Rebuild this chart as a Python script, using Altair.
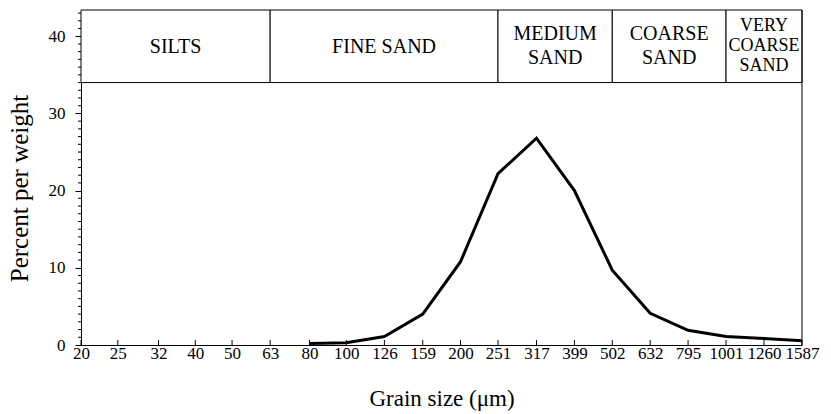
import altair as alt
import pandas as pd

# Grain-size distribution
sizes = [80, 100, 126, 159, 200, 251, 317, 399, 502, 632, 795, 1001, 1260, 1587]
percent = [0.2, 0.3, 1.1, 4.0, 10.8, 22.2, 26.8, 20.0, 9.7, 4.1, 1.9, 1.1, 0.85, 0.55]

# x-axis tick labels (µm)
tick_values = [20, 25, 32, 40, 50, 63, 80, 100, 126, 159, 200, 251, 317, 399,
               502, 632, 795, 1001, 1260, 1587]

# y-axis major and minor ticks
y_major = [0, 10, 20, 30, 40]
y_minor = [v for v in range(0, 44) if v % 10 != 0]

# Size classes
class_names = ["SILTS", "FINE  SAND", "MEDIUM\nSAND", "COARSE\nSAND", "VERY\nCOARSE\nSAND"]
class_start = [20, 63, 251, 502, 1001]
class_end = [63, 251, 502, 1001, 1587]

Y_TOP = 43.4
BAND_LOW = 34.0

line_df = pd.DataFrame({"size": sizes, "percent": percent})
band_df = pd.DataFrame({
    "name": class_names,
    "start": class_start,
    "end": class_end,
})
band_df["mid"] = (band_df["start"] * band_df["end"]) ** 0.5
band_df["low"] = BAND_LOW
band_df["high"] = Y_TOP
band_df["ymid"] = (BAND_LOW + Y_TOP) / 2
band_df["nlines"] = [n.count("\n") + 1 for n in class_names]

minor_df = pd.DataFrame({"v": y_minor})
xtick_df = pd.DataFrame({"t": tick_values})

FONT = "Liberation Serif, Times New Roman, serif"

x_scale = alt.Scale(type="log", domain=[20, 1587], nice=False)
y_scale = alt.Scale(domain=[0, Y_TOP], nice=False, zero=False)

x_axis = alt.Axis(
    values=tick_values, format="d", grid=False,
    title="Grain size (μm)", titleFont=FONT, titleFontSize=23, titleFontWeight="normal",
    titleBaseline="alphabetic", titleY=60, titleColor="black",
    labelFont=FONT, labelFontSize=17, labelColor="black", labelPadding=0,
    labelFlush=False, labelOverlap=False,
    ticks=False, domainColor="black",
)
y_axis = alt.Axis(
    values=y_major, grid=False, labelOverlap=False,
    tickSize=6,
    title="Percent per weight", titleFont=FONT, titleFontSize=25, titleFontWeight="normal",
    titleBaseline="alphabetic", titleX=-54, titleY=178, titleColor="black",
    labelFont=FONT, labelFontSize=17, labelColor="black", labelPadding=10,
    tickColor="black", domainColor="black",
)

line = alt.Chart(line_df).mark_line(color="black", strokeWidth=3, strokeJoin="miter").encode(
    x=alt.X("size:Q", scale=x_scale, axis=x_axis),
    y=alt.Y("percent:Q", scale=y_scale, axis=y_axis),
)

minor_ticks = alt.Chart(minor_df).mark_rule(color="black", strokeWidth=1).encode(
    x=alt.value(-3),
    x2=alt.value(0),
    y=alt.Y("v:Q", scale=y_scale),
)

# inward x ticks
x_ticks = alt.Chart(xtick_df).mark_rule(color="black", strokeWidth=1).encode(
    x=alt.X("t:Q", scale=x_scale),
    y=alt.value(335),
    y2=alt.value(330),
)

bands = alt.Chart(band_df).mark_rect(fill="white", stroke="black", strokeWidth=1).encode(
    x=alt.X("start:Q", scale=x_scale),
    x2="end:Q",
    y=alt.Y("low:Q", scale=y_scale),
    y2="high:Q",
)


def band_labels(n, size, line_h, dy):
    return alt.Chart(band_df).transform_filter(
        f"datum.nlines === {n}"
    ).mark_text(font=FONT, fontSize=size, lineBreak="\n", lineHeight=line_h, dy=dy,
                color="black", align="center", baseline="middle").encode(
        x=alt.X("mid:Q", scale=x_scale),
        y=alt.Y("ymid:Q", scale=y_scale),
        text="name:N",
    )


labels1 = band_labels(1, 20, 24, 1)
labels2 = band_labels(2, 20, 24, -12)
labels3 = band_labels(3, 18, 20, -20)

right_border = alt.Chart(pd.DataFrame({"x": [1587], "y0": [0], "y1": [Y_TOP]})).mark_rule(
    color="black", strokeWidth=1
).encode(
    x=alt.X("x:Q", scale=x_scale),
    y=alt.Y("y0:Q", scale=y_scale),
    y2="y1:Q",
)

chart = alt.layer(line, minor_ticks, x_ticks, bands, labels1, labels2, labels3,
                  right_border).properties(
    width=721, height=335,
    autosize=alt.AutoSizeParams(type="none"),
    padding={"left": 81, "top": 10, "right": 29, "bottom": 69},
    background="white",
).configure_view(stroke=None)

chart.save("out.html", embed_options={"renderer": "svg", "actions": False})
